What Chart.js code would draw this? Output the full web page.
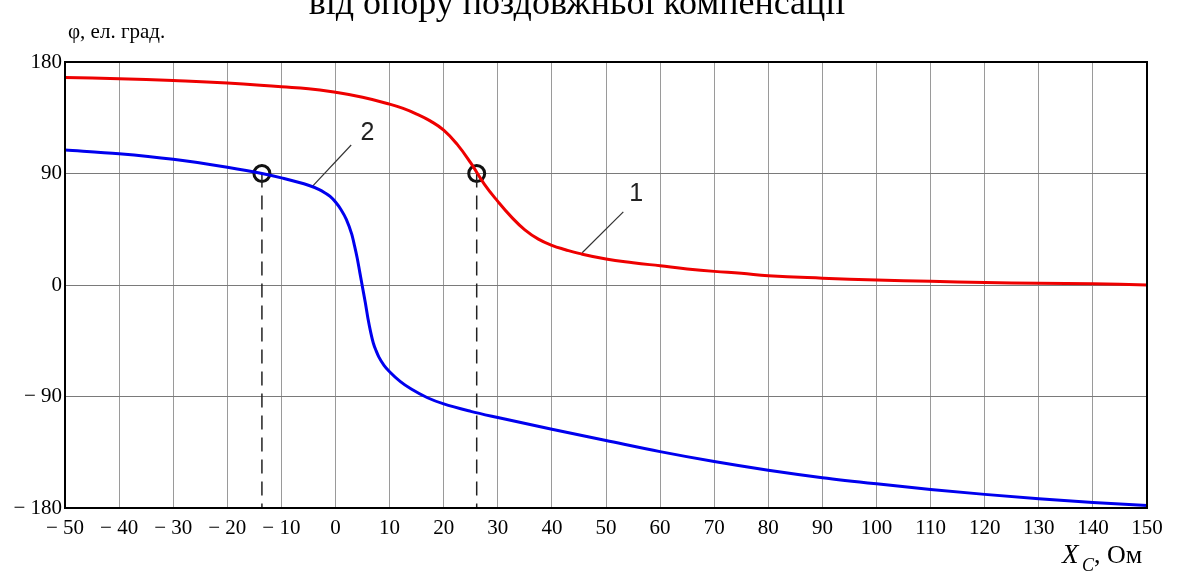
<!DOCTYPE html>
<html>
<head>
<meta charset="utf-8">
<script src="https://cdn.jsdelivr.net/npm/chart.js@4"></script>
<style>
  html, body { margin: 0; padding: 0; background: #fff; }
  #wrap { width: 1179px; height: 579px; position: relative; }
</style>
</head>
<body>
<div id="wrap"><canvas id="chart"></canvas></div>
<script>
// Дані кривих (Xc, Ом -> φ, ел. град.)
const redX = [-50, -40, -30, -20, -10, -5, 0, 5, 10, 12.5, 15, 17.5, 20, 22.5, 25, 27.5, 30, 32.5, 35, 37.5, 40, 42.5, 45, 50, 55, 60, 65, 70, 75, 80, 90, 100, 110, 120, 130, 140, 150]
const redY = [167.5, 166.5, 165, 163, 160, 158.5, 155.5, 151.5, 146, 142.5, 138, 132.5, 125, 113.5, 98.5, 81.5, 67.5, 55, 44.5, 37, 32, 28.5, 25.5, 21, 18, 15.5, 13, 11, 9.5, 7.5, 5.5, 4, 3, 2, 1.5, 1, 0]

const blueX = [-50, -40, -30, -20, -13.6, -10, -5, -3, -2, -1, 0, 1, 2, 3, 3.5, 4, 4.5, 5, 5.5, 6, 6.5, 7, 7.5, 8, 9, 10, 12, 14, 17, 20, 25, 30, 40, 50, 60, 70, 80, 90, 100, 110, 120, 130, 140, 150]
const blueY = [109, 106, 101.5, 95, 90, 86.5, 80.5, 77, 74.5, 71.5, 67, 61, 53, 41, 32, 22, 10, -2, -14, -27, -38, -47, -53, -58, -65, -70, -78, -84, -91, -96, -102, -107, -116.5, -125.5, -134.5, -142.5, -149.5, -155.5, -160.5, -165, -169, -172.5, -175.5, -178]

// Точки перетину з лінією 90°
const markX = [-13.6, 26.1]
const markY = [90, 90]

// Позначки кривих
const curveLabels = ["2", "1"]
const labelX = [5.9, 55.6]
const labelY = [123, 73]
const leaderStartX = [-4.4, 45.6]
const leaderStartY = [79, 26]
const leaderEndX = [2.9, 53.2]
const leaderEndY = [113, 59]

const xTicks = [-50, 150, 10]
const yTicks = [-180, 180, 90]

const toPts = (xs, ys) => xs.map((x, i) => ({ x: x, y: ys[i] }))
const fmt = (v) => (v < 0 ? "\u2212 " + Math.abs(v) : String(v))

const datasets = [
  {
    data: toPts(redX, redY),
    borderColor: "#ee0000",
    borderWidth: 3,
    pointRadius: 0,
    showLine: true,
    tension: 0.45,
  },
  {
    data: toPts(blueX, blueY),
    borderColor: "#0000ee",
    borderWidth: 3,
    pointRadius: 0,
    showLine: true,
    cubicInterpolationMode: "monotone",
  },
]

// Пунктирні вертикалі від точок до осі
markX.forEach((mx, i) => {
  datasets.push({
    data: [{ x: mx, y: markY[i] }, { x: mx, y: yTicks[0] }],
    borderColor: "#222",
    borderWidth: 1.5,
    borderDash: [14, 8],
    pointRadius: 0,
    showLine: true,
  })
})

// Виносні лінії
leaderStartX.forEach((sx, i) => {
  datasets.push({
    data: [{ x: sx, y: leaderStartY[i] }, { x: leaderEndX[i], y: leaderEndY[i] }],
    borderColor: "#333",
    borderWidth: 1.2,
    pointRadius: 0,
    showLine: true,
  })
})

// Кружечки
datasets.push({
  data: toPts(markX, markY),
  pointRadius: 8,
  pointBorderWidth: 3,
  pointBorderColor: "#111",
  pointBackgroundColor: "rgba(0,0,0,0)",
  showLine: false,
})

const textPlugin = {
  id: "texts",
  afterDraw(chart) {
    const ctx = chart.ctx
    const a = chart.chartArea
    const sx = chart.scales.x
    const sy = chart.scales.y
    ctx.save()
    // рамка
    ctx.strokeStyle = "#000"
    ctx.lineWidth = 2
    ctx.strokeRect(a.left, a.top, a.right - a.left, a.bottom - a.top)

    // заголовок (обрізаний зверху)
    ctx.fillStyle = "#000"
    ctx.font = "36px 'Liberation Serif'"
    ctx.textAlign = "center"
    ctx.textBaseline = "alphabetic"
    ctx.fillText("від опору поздовжньої компенсації", 577, 14)

    // підпис осі Y
    ctx.font = "21px 'Liberation Serif'"
    ctx.textAlign = "left"
    ctx.fillText("φ, ел. град.", 68, 38)

    // підпис осі X
    ctx.font = "italic 27px 'Liberation Serif'"
    ctx.fillText("X", 1062, 563)
    ctx.font = "italic 18px 'Liberation Serif'"
    ctx.fillText("C", 1082, 571)
    ctx.font = "26px 'Liberation Serif'"
    ctx.fillText(", Ом", 1094, 563)

    // номери кривих
    ctx.font = "25px 'Liberation Sans'"
    ctx.textAlign = "center"
    ctx.textBaseline = "middle"
    ctx.fillStyle = "#222"
    curveLabels.forEach((t, i) => {
      ctx.fillText(t, sx.getPixelForValue(labelX[i]), sy.getPixelForValue(labelY[i]))
    })
    ctx.restore()
  },
}

new Chart(document.getElementById("chart"), {
  type: "scatter",
  data: { datasets: datasets },
  options: {
    responsive: true,
    maintainAspectRatio: false,
    animation: false,
    layout: { padding: { top: 62, right: 32, left: 0, bottom: 0 } },
    plugins: {
      legend: { display: false },
      tooltip: { enabled: false },
    },
    scales: {
      x: {
        type: "linear",
        min: xTicks[0],
        max: xTicks[1],
        afterFit: (s) => { s.height = 71 },
        ticks: {
          stepSize: xTicks[2],
          autoSkip: false,
          maxRotation: 0,
          padding: 8,
          color: "#000",
          font: { family: "'Liberation Serif'", size: 21 },
          callback: (v) => fmt(v),
        },
        grid: { color: "#9a9a9a", lineWidth: 1, drawTicks: false },
        border: { display: false },
      },
      y: {
        type: "linear",
        min: yTicks[0],
        max: yTicks[1],
        afterFit: (s) => { s.width = 65 },
        ticks: {
          stepSize: yTicks[2],
          padding: 3,
          color: "#000",
          font: { family: "'Liberation Serif'", size: 21 },
          callback: (v) => fmt(v),
        },
        grid: { color: "#7a7a7a", lineWidth: 1, drawTicks: false },
        border: { display: false },
      },
    },
  },
  plugins: [textPlugin],
})
</script>
</body>
</html>
